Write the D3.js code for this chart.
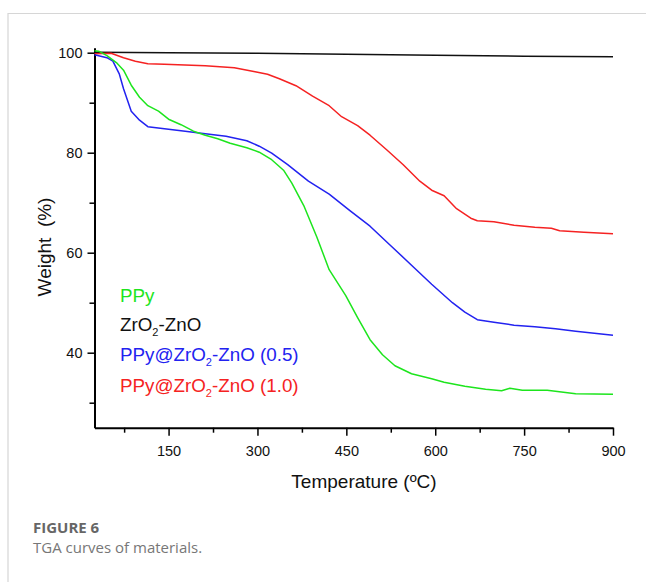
<!DOCTYPE html>
<html>
<head>
<meta charset="utf-8">
<script src="https://cdn.jsdelivr.net/npm/d3@7"></script>
<style>
  body { margin: 0; background: #fff; }
  svg { display: block; }
</style>
</head>
<body>
<script>
// DATA
var tempPPy = [25, 32, 46, 63, 74, 87, 101, 115, 133, 150, 171, 192, 212, 233, 254, 282, 303, 324, 344, 358, 379, 400, 421, 449, 469, 490, 511, 532, 560, 594, 615, 650, 685, 712, 726, 747, 789, 837, 900];
var wPPy    = [100.4, 100.3, 99.4, 97.9, 96.5, 93.5, 91.1, 89.4, 88.3, 86.7, 85.6, 84.3, 83.5, 82.8, 81.9, 81.0, 80.1, 78.6, 76.5, 73.9, 69.2, 63.2, 56.6, 51.4, 47.0, 42.6, 39.6, 37.4, 35.8, 34.8, 34.1, 33.3, 32.7, 32.4, 32.9, 32.5, 32.5, 31.8, 31.7];

var tempZr = [25, 150, 300, 450, 600, 750, 900];
var wZr    = [100.1, 100.0, 99.9, 99.7, 99.5, 99.3, 99.2];

var temp05 = [25, 46, 56, 67, 74, 87, 101, 115, 143, 178, 212, 247, 282, 303, 324, 351, 386, 421, 456, 490, 525, 560, 594, 629, 650, 671, 699, 733, 768, 803, 837, 900];
var w05    = [99.6, 99.0, 98.3, 95.7, 92.8, 88.3, 86.5, 85.2, 84.8, 84.3, 83.8, 83.3, 82.4, 81.3, 79.9, 77.6, 74.3, 71.7, 68.4, 65.3, 61.4, 57.5, 53.7, 50.0, 48.1, 46.6, 46.1, 45.5, 45.2, 44.8, 44.3, 43.5];

var temp10 = [25, 53, 74, 94, 115, 143, 212, 261, 296, 317, 337, 365, 393, 421, 442, 469, 490, 518, 546, 574, 594, 615, 636, 660, 671, 699, 733, 768, 796, 810, 851, 900];
var w10    = [99.8, 99.9, 99.0, 98.3, 97.8, 97.7, 97.4, 97.0, 96.2, 95.7, 94.8, 93.4, 91.3, 89.4, 87.2, 85.4, 83.5, 80.6, 77.6, 74.3, 72.5, 71.4, 68.8, 66.9, 66.4, 66.2, 65.5, 65.1, 64.9, 64.4, 64.1, 63.8];

var xMajor = [150, 300, 450, 600, 750, 900];
var xMinor = [75, 225, 375, 525, 675, 825];
var yMajor = [40, 60, 80, 100];
var yMinor = [30, 50, 70, 90];

var legendNames  = [["PPy"], ["ZrO", "2", "-ZnO"], ["PPy@ZrO", "2", "-ZnO (0.5)"], ["PPy@ZrO", "2", "-ZnO (1.0)"]];
var legendColors = ["#1de51d", "#111111", "#2222f0", "#f52222"];

// CANVAS
var svg = d3.select("body").append("svg")
    .attr("width", 646)
    .attr("height", 582);

// card border (top and left)
svg.append("path")
    .attr("d", "M8,582 V13.5 H646")
    .attr("fill", "none")
    .attr("stroke", "#d6d6d6")
    .attr("stroke-width", 1.2);

// SCALES
var x = d3.scaleLinear().domain([25, 900]).range([94.5, 613]);
var y = d3.scaleLinear().domain([25, 101]).range([427.7, 47.7]);

var axisFont = "'Liberation Sans', Arial, sans-serif";

// minor ticks
svg.append("g")
    .attr("transform", "translate(0," + y(25) + ")")
    .call(d3.axisBottom(x).tickValues(xMinor).tickSize(5).tickFormat("").tickSizeOuter(0))
    .call(function(g) { g.select(".domain").remove(); })
    .selectAll("line").attr("stroke-width", 1.5);

svg.append("g")
    .attr("transform", "translate(" + x(25) + ",0)")
    .call(d3.axisLeft(y).tickValues(yMinor).tickSize(5).tickFormat("").tickSizeOuter(0))
    .call(function(g) { g.select(".domain").remove(); })
    .selectAll("line").attr("stroke-width", 1.5);

// major axes
var xAxis = svg.append("g")
    .attr("transform", "translate(0," + y(25) + ")")
    .call(d3.axisBottom(x).tickValues(xMajor).tickSize(8).tickPadding(10).tickSizeOuter(0));

var yAxis = svg.append("g")
    .attr("transform", "translate(" + x(25) + ",0)")
    .call(d3.axisLeft(y).tickValues(yMajor).tickSize(7).tickPadding(5).tickSizeOuter(0));

[xAxis, yAxis].forEach(function(g) {
    g.attr("font-family", axisFont).attr("font-size", 14.5);
    g.select(".domain").attr("stroke-width", 2);
    g.selectAll(".tick line").attr("stroke-width", 1.5);
    g.selectAll("text").attr("fill", "#111");
});

// axis titles
svg.append("text")
    .attr("x", 364)
    .attr("y", 488)
    .attr("text-anchor", "middle")
    .style("font-family", axisFont)
    .style("font-size", "19px")
    .attr("fill", "#111")
    .text("Temperature (ºC)");

svg.append("text")
    .attr("transform", "translate(51,247) rotate(-90)")
    .attr("text-anchor", "middle")
    .style("font-family", axisFont)
    .style("font-size", "19px")
    .attr("fill", "#111")
    .text("Weight\u00a0\u00a0(%)");

// CURVES
var line = d3.line()
    .x(function(d) { return x(d[0]); })
    .y(function(d) { return y(d[1]); });

var series = [
    {t: tempZr, w: wZr, c: legendColors[1]},
    {t: temp10, w: w10, c: legendColors[3]},
    {t: temp05, w: w05, c: legendColors[2]},
    {t: tempPPy, w: wPPy, c: legendColors[0]}
];

series.forEach(function(s) {
    svg.append("path")
        .datum(d3.zip(s.t, s.w))
        .attr("d", line)
        .attr("fill", "none")
        .attr("stroke", s.c)
        .attr("stroke-width", 1.5)
        .attr("stroke-linejoin", "round");
});

// LEGEND
var legendY = [302, 331, 361, 392];
legendNames.forEach(function(parts, i) {
    var t = svg.append("text")
        .attr("x", 120)
        .attr("y", legendY[i])
        .style("font-family", axisFont)
        .style("font-size", "18.8px")
        .attr("fill", legendColors[i]);
    t.append("tspan").text(parts[0]);
    if (parts.length > 1) {
        t.append("tspan").style("font-size", "11px").attr("dy", 5).text(parts[1]);
        t.append("tspan").attr("dy", -5).text(parts[2]);
    }
});

// CAPTION
svg.append("text")
    .attr("x", 33)
    .attr("y", 533)
    .style("font-family", "'Open Sans', sans-serif")
    .style("font-weight", "bold")
    .style("font-size", "15px")
    .attr("fill", "#666")
    .text("FIGURE 6");

svg.append("text")
    .attr("x", 33)
    .attr("y", 553)
    .style("font-family", "'Open Sans', sans-serif")
    .style("font-size", "15px")
    .attr("fill", "#777")
    .text("TGA curves of materials.");
</script>
</body>
</html>
